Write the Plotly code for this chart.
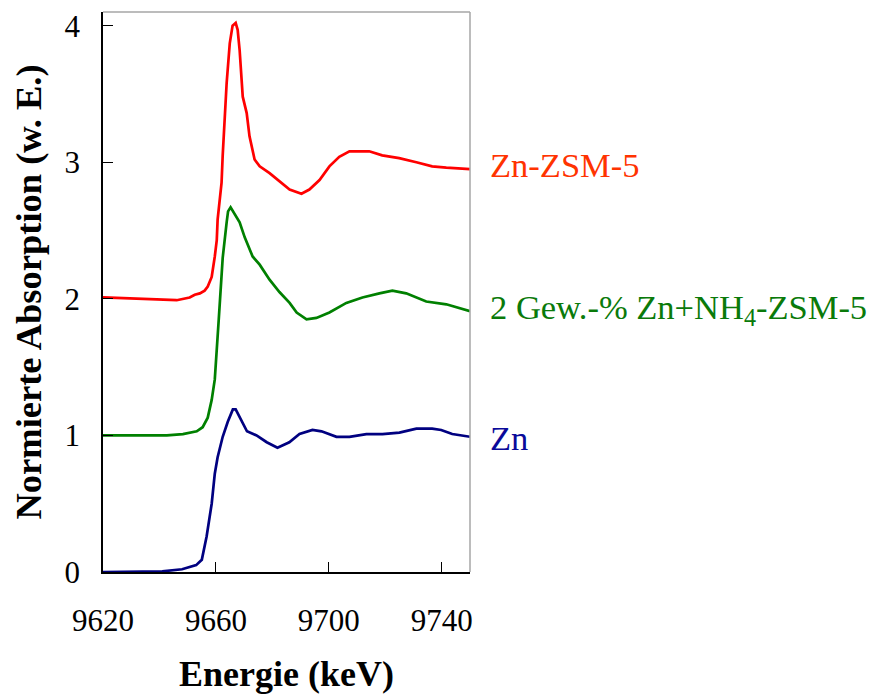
import plotly.graph_objects as go

# Energy axis (keV) and normalised absorption for each sample
zn_x = [9620, 9635, 9641, 9648, 9653, 9655, 9656.7, 9658.5, 9659.6, 9660.6, 9662.4,
        9664.2, 9666, 9667, 9669, 9671, 9674.4, 9678, 9681.8, 9686, 9689.6, 9694.2,
        9697.4, 9702.7, 9707.3, 9713.3, 9719, 9725, 9731, 9736.6, 9739.8, 9743.7, 9750]
zn_y = [0, 0, 0.005, 0.02, 0.05, 0.09, 0.26, 0.5, 0.72, 0.84, 0.99,
        1.10, 1.19, 1.19, 1.11, 1.03, 1.0, 0.95, 0.91, 0.95, 1.01, 1.04,
        1.03, 0.99, 0.99, 1.01, 1.01, 1.02, 1.05, 1.05, 1.04, 1.01, 0.99]

nh4_x = [9620, 9635, 9642.6, 9648.3, 9653.2, 9655.3, 9657.1, 9658.5, 9659.6, 9661.0,
         9662.0, 9662.4, 9663.8, 9664.3, 9665.2, 9666.3, 9668.4, 9670.2, 9673.0,
         9675.5, 9679.0, 9682.5, 9686.1, 9688.6, 9692.1, 9695.6, 9700.2, 9706.2,
         9711.9, 9717.9, 9722.5, 9727.4, 9734.5, 9741.6, 9750]
nh4_y = [1.0, 1.0, 1.0, 1.01, 1.03, 1.06, 1.13, 1.26, 1.41, 1.85,
         2.14, 2.30, 2.56, 2.64, 2.67, 2.63, 2.56, 2.45, 2.31,
         2.25, 2.14, 2.05, 1.97, 1.90, 1.85, 1.86, 1.90, 1.97,
         2.01, 2.04, 2.06, 2.04, 1.98, 1.96, 1.91]

zsm_x = [9620, 9635, 9646.1, 9650.7, 9652.5, 9654.3, 9656.0, 9657.1, 9658.5, 9659.6,
         9660.3, 9660.6, 9661.3, 9662.0, 9662.4, 9663.1, 9663.8, 9664.9, 9665.9,
         9667.0, 9667.7, 9668.4, 9669.5, 9670.9, 9671.9, 9673.7, 9675.5, 9679.0,
         9682.5, 9686.1, 9690.3, 9693.1, 9696.7, 9700.2, 9703.7, 9707.3, 9710.8,
         9714.3, 9718.9, 9724.9, 9731.0, 9736.6, 9741.6, 9750]
zsm_y = [2.01, 2.0, 1.99, 2.01, 2.03, 2.04, 2.06, 2.09, 2.16, 2.31,
         2.43, 2.58, 2.72, 2.85, 3.05, 3.33, 3.58, 3.87, 4.0,
         4.02, 3.97, 3.82, 3.48, 3.36, 3.19, 3.02, 2.97, 2.92,
         2.86, 2.80, 2.77, 2.80, 2.87, 2.97, 3.04, 3.08, 3.08,
         3.08, 3.05, 3.03, 3.0, 2.97, 2.96, 2.95]

series = [
    ("Zn", zn_x, zn_y, "#000080", "#0a0a9a", 0.98),
    ("2 Gew.-% Zn+NH<sub>4</sub>-ZSM-5", nh4_x, nh4_y, "#008000", "#0a7a0a", 1.92),
    ("Zn-ZSM-5", zsm_x, zsm_y, "#ff0000", "#ff3300", 2.98),
]

FONT = "Liberation Serif, Times New Roman, serif"

fig = go.Figure()
for name, xs, ys, colour, text_colour, label_y in series:
    fig.add_trace(go.Scatter(x=xs, y=ys, mode="lines", name=name,
                             line=dict(color=colour, width=2.7), showlegend=False))
    fig.add_annotation(text=name, xref="paper", x=1.05, xanchor="left",
                       yref="y", y=label_y, yanchor="middle", showarrow=False,
                       font=dict(family=FONT, size=34.5, color=text_colour))

# light grey frame on top and right
fig.add_shape(type="line", xref="paper", yref="paper", x0=0, x1=1, y0=1, y1=1,
              line=dict(color="#a6a6a6", width=1.5))
fig.add_shape(type="line", xref="paper", yref="paper", x0=1, x1=1, y0=0, y1=1,
              line=dict(color="#a6a6a6", width=1.5))

fig.update_xaxes(range=[9620, 9750], tickvals=[9620, 9660, 9700, 9740],
                 ticks="inside", ticklen=10, tickcolor="black",
                 showline=True, linecolor="black", linewidth=1.5,
                 showgrid=False, zeroline=False, ticklabelstandoff=20,
                 tickfont=dict(family=FONT, size=31, color="black"),
                 title=dict(text="<b>Energie (keV)</b>", standoff=24,
                            font=dict(family=FONT, size=36, color="black")))
fig.update_yaxes(range=[0, 4.1], tickvals=[0, 1, 2, 3, 4],
                 ticks="inside", ticklen=10, tickcolor="black",
                 showline=True, linecolor="black", linewidth=1.5,
                 showgrid=False, zeroline=False, ticklabelstandoff=15,
                 tickfont=dict(family=FONT, size=31, color="black"),
                 title=dict(text="<b>Normierte Absorption (w. E.)</b>", standoff=12,
                            font=dict(family=FONT, size=36.5, color="black")))

# page adds an 8 px offset, so margins are shifted to compensate
fig.update_layout(width=875, height=694, plot_bgcolor="white", paper_bgcolor="white",
                  margin=dict(l=95, r=413, t=4, b=130, autoexpand=False))

fig.write_html("out.html")
